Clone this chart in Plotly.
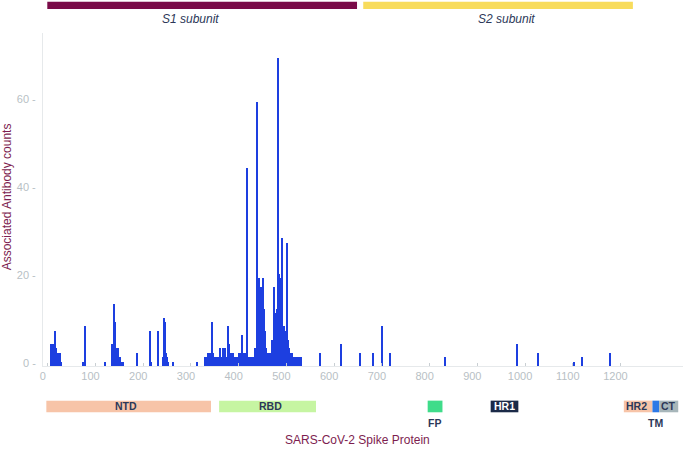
import plotly.graph_objects as go

# ---------------- data ----------------
# sparse antibody-associated residues before the RBD block
left_residues = [7, 9, 11, 13, 16, 17, 19, 21, 23, 25, 26, 28,
                 75, 79, 121,
                 134, 136, 139, 142, 143, 145, 147, 148, 150, 151, 153, 155, 157,
                 188, 214, 216, 231, 242, 244, 246, 247, 249, 251, 253, 263, 313]
left_counts = [5, 5, 5, 4, 8, 4, 3, 3, 3, 3, 1, 1,
               1, 9, 1,
               5, 5, 14, 10, 4, 4, 4, 4, 2, 2, 1, 1, 1,
               3, 8, 1, 8, 2, 11, 10, 3, 2, 1, 1, 1, 1]

# per-residue counts for the continuous block, residues 330..531
block_first_residue = 330
block_counts = [
    2, 2, 2, 2, 2, 2,
    3, 2, 3, 2, 3, 2, 3, 3, 3, 10, 3, 3,
    2, 2, 2, 2, 2, 2, 2, 2, 2, 2, 2, 2,
    2, 4, 2, 2, 2, 2, 2, 2, 4, 2, 2, 4,
    2, 2, 2, 2, 2, 9, 2, 2, 5, 2, 2, 2,
    3, 2, 3, 2, 3, 2, 2, 2, 2, 2, 2, 2,
    2, 2, 2, 2, 3, 2, 3, 2, 3, 2, 2, 7,
    2, 3, 2, 3, 2, 3, 2, 2, 2, 45, 2, 2,
    2, 2, 2, 2, 2, 2, 2, 2, 2, 2, 0, 2,
    2, 2, 4, 2, 2, 2, 60, 2, 2, 5, 2, 20,
    2, 15, 13, 2, 18, 2, 2, 20, 2, 2, 13, 2,
    8, 2, 4, 2, 2, 3, 2, 3, 2, 3, 2, 3,
    2, 2, 2, 6, 2, 2, 18, 2, 12, 2, 2, 8,
    2, 13, 2, 70, 2, 21, 2, 20, 2, 2, 29, 2,
    18, 2, 2, 9, 2, 8, 2, 7, 2, 28, 2, 6,
    2, 2, 4, 2, 3, 2, 3, 2, 3, 2, 2, 2,
    2, 2, 2, 2, 2, 2, 2, 2, 2, 2, 2, 2, 2, 2, 2, 2,
]

# sparse residues after the block
right_residues = [570, 614, 655, 681, 701, 717, 832, 983, 1028, 1103, 1120, 1178]
right_counts = [3, 5, 3, 3, 9, 3, 2, 5, 3, 1, 2, 3]

x_tick_values = [0, 100, 200, 300, 400, 500, 600, 700, 800, 900, 1000, 1100, 1200]
x_tick_labels = ["0", "100", "200", "300", "400", "500", "600", "700", "800",
                 "900", "1000", "1100", "1200"]
y_tick_values = [0, 20, 40, 60]
y_tick_labels = ["0 -", "20 -", "40 -", "60 -"]

subunit_names = ["S1 subunit", "S2 subunit"]
subunit_start = [-1, 661]
subunit_end = [648, 1226]
subunit_label_pos = [300, 961]

domain_names = ["NTD", "RBD", "FP", "HR1", "HR2", "TM", "CT"]
domain_start = [-3, 359, 796, 928, 1207, 1267, 1281]
domain_end = [342, 562, 827, 986, 1267, 1281, 1321]
domain_label_pos = [164, 467, 811, 957, 1234, 1273, 1300]
domain_label_below = [False, False, True, False, False, True, False]

# ---------------- styles ----------------
BAR_BLUE = "#1d3fe0"
SUBUNIT_COLORS = ["#7a0b48", "#f8dc5c"]
DOMAIN_COLORS = ["#f7c4a8", "#c6f5a2", "#3fdc8a", "#1b2a48", "#f7c4a8", "#2c78e6", "#a7b6ba"]
DOMAIN_TEXT = ["#2c3858", "#2c3858", "#2c3858", "#ffffff", "#2c3858", "#2c3858", "#2c3858"]
NAVY = "#2c3858"
MAROON = "#7d1d4f"
TICK_GREY = "#b8bfc5"
FONT = "Arial, Liberation Sans, sans-serif"

block_residues = list(range(block_first_residue, block_first_residue + len(block_counts)))
residues = left_residues + block_residues + right_residues
counts = left_counts + block_counts + right_counts

fig = go.Figure()
fig.add_trace(go.Bar(
    x=residues, y=counts, width=2.5,
    marker=dict(color=BAR_BLUE, line=dict(width=0)),
    hoverinfo="x+y", showlegend=False,
))

shapes = []
annotations = []

# subunit bars at top
for name, s, e, lp, col in zip(subunit_names, subunit_start, subunit_end, subunit_label_pos, SUBUNIT_COLORS):
    shapes.append(dict(type="rect", xref="x", yref="paper", x0=s, x1=e, y0=1.072, y1=1.094,
                       fillcolor=col, line=dict(width=0), layer="above"))
    annotations.append(dict(x=lp, y=1.041, xref="x", yref="paper", text=f"<i>{name}</i>",
                            showarrow=False, font=dict(family=FONT, size=12, color=NAVY),
                            xanchor="center", yanchor="middle"))

# domain bars at bottom
for name, s, e, lp, below, col, tcol in zip(domain_names, domain_start, domain_end,
                                          domain_label_pos, domain_label_below,
                                          DOMAIN_COLORS, DOMAIN_TEXT):
    shapes.append(dict(type="rect", xref="x", yref="paper", x0=s, x1=e, y0=-0.139, y1=-0.104,
                       fillcolor=col, line=dict(width=0), layer="above"))
    annotations.append(dict(x=lp, y=(-0.170 if below else -0.1215), xref="x", yref="paper",
                            text=f"<b>{name}</b>", showarrow=False,
                            font=dict(family=FONT, size=10.5, color=(NAVY if below else tcol)),
                            xanchor="center", yanchor="middle"))

# axis titles
annotations.append(dict(x=648, y=-0.222, xref="x", yref="paper", text="SARS-CoV-2 Spike Protein",
                        showarrow=False, font=dict(family=FONT, size=12, color=MAROON),
                        xanchor="center", yanchor="middle"))
annotations.append(dict(x=-0.056, y=0.507, xref="paper", yref="paper", text="Associated Antibody counts",
                        textangle=-90, showarrow=False, font=dict(family=FONT, size=12, color=MAROON),
                        xanchor="center", yanchor="middle"))

fig.update_layout(
    width=685, height=449,
    margin=dict(l=43, r=2, t=33, b=83, pad=0),
    paper_bgcolor="white", plot_bgcolor="white",
    font=dict(family=FONT),
    shapes=shapes, annotations=annotations,
    bargap=0,
    xaxis=dict(range=[-10, 1331], tickvals=x_tick_values, ticktext=x_tick_labels,
               ticks="inside", ticklen=3, tickcolor="#c9cfd3", tickwidth=1,
               showline=True, linecolor="#e6e9eb", linewidth=1,
               showgrid=False, zeroline=False, ticklabelshift=-5,
               tickfont=dict(family=FONT, size=11, color=TICK_GREY)),
    yaxis=dict(range=[0, 75.7], tickvals=y_tick_values, ticktext=y_tick_labels,
               ticks="", showline=True, linecolor="#e6e9eb", linewidth=1,
               showgrid=False, zeroline=False, ticklabelshift=-3, ticklabelstandoff=4,
               tickfont=dict(family=FONT, size=11, color=TICK_GREY)),
)

# remove the browser's default 8 px body margin so the figure sits at the window origin
fig.write_html("out.html", config={"displayModeBar": False},
               post_script="document.body.style.margin='0';")
